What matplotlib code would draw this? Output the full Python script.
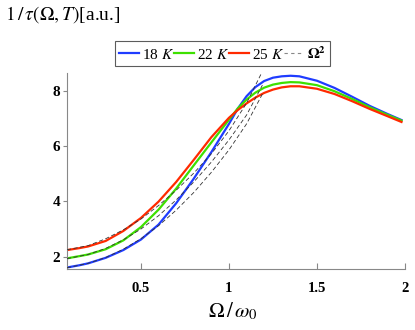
import matplotlib
matplotlib.use("Agg")
import matplotlib.pyplot as plt
from matplotlib.lines import Line2D

plt.rcParams['font.family'] = ['Liberation Serif', 'DejaVu Serif']
plt.rcParams['mathtext.fontset'] = 'stix'

# ---- data ----
x_blue = [0.08, 0.15, 0.2, 0.3, 0.4, 0.5, 0.6, 0.7, 0.8, 0.9, 1.0, 1.05, 1.1, 1.15, 1.2,
          1.25, 1.3, 1.35, 1.4, 1.5, 1.6, 1.7, 1.8, 1.9, 1.98]
y_blue = [1.61, 1.69, 1.76, 1.96, 2.24, 2.62, 3.16, 3.93, 4.82, 5.78, 6.80, 7.35, 7.80, 8.13, 8.35,
          8.47, 8.52, 8.54, 8.52, 8.36, 8.10, 7.78, 7.45, 7.16, 6.94]

x_green = [0.08, 0.15, 0.2, 0.3, 0.4, 0.5, 0.6, 0.7, 0.8, 0.9, 1.0, 1.05, 1.1, 1.15, 1.2,
           1.25, 1.3, 1.35, 1.4, 1.5, 1.6, 1.7, 1.8, 1.9, 1.98]
y_green = [1.94, 2.02, 2.08, 2.27, 2.59, 3.07, 3.70, 4.46, 5.30, 6.13, 6.95, 7.36, 7.68, 7.93, 8.11,
           8.22, 8.28, 8.31, 8.30, 8.20, 7.98, 7.70, 7.40, 7.13, 6.92]

x_red = [0.08, 0.15, 0.2, 0.3, 0.4, 0.5, 0.6, 0.7, 0.8, 0.9, 1.0, 1.05, 1.1, 1.15, 1.2,
         1.25, 1.3, 1.35, 1.4, 1.5, 1.6, 1.7, 1.8, 1.9, 1.98]
y_red = [2.24, 2.31, 2.37, 2.57, 2.93, 3.40, 3.99, 4.70, 5.50, 6.32, 7.02, 7.30, 7.54, 7.75, 7.92,
         8.04, 8.12, 8.16, 8.16, 8.07, 7.88, 7.62, 7.34, 7.08, 6.87]

x_fit = [0.08, 0.2, 0.3, 0.4, 0.5, 0.6, 0.7, 0.8, 0.9, 1.0, 1.1, 1.19]
y_fit_blue = [1.60, 1.76, 1.97, 2.27, 2.65, 3.12, 3.68, 4.32, 5.05, 5.86, 6.80, 7.88]
y_fit_green = [1.93, 2.08, 2.30, 2.61, 3.00, 3.48, 4.05, 4.70, 5.42, 6.22, 7.12, 8.20]
y_fit_red = [2.25, 2.40, 2.65, 2.97, 3.36, 3.85, 4.40, 5.02, 5.72, 6.55, 7.55, 8.70]

labels = ['18 $K$', '22 $K$', '25 $K$', r'$\mathbf{\Omega^2}$']
colors = ['#1f3cff', '#3de000', '#ff2a00', '#888888']
x_ticks = [0.5, 1, 1.5, 2]
x_tick_labels = ['0.5', '1', '1.5', '2']
y_ticks = [2, 4, 6, 8]

fig = plt.figure(figsize=(4.15, 3.30), dpi=100)
ax = fig.add_axes([0.1614, 0.1848, 0.8145, 0.594])

for xf, yf in [(x_fit, y_fit_blue), (x_fit, y_fit_green), (x_fit, y_fit_red)]:
    ax.plot(xf, yf, color='#333333', lw=0.6, ls=(0, (5, 3)), zorder=3)

ax.plot(x_blue, y_blue, color=colors[0], lw=1.6, zorder=2)
ax.plot(x_green, y_green, color=colors[1], lw=1.6, zorder=2)
ax.plot(x_red, y_red, color=colors[2], lw=1.6, zorder=2)

ax.set_xlim(0.08, 2.0)
ax.set_ylim(1.555, 8.64)
ax.set_xticks(x_ticks)
ax.set_xticklabels(x_tick_labels)
ax.set_yticks(y_ticks)
for s in ['top', 'right']:
    ax.spines[s].set_visible(False)
for s in ['left', 'bottom']:
    ax.spines[s].set_color('#888888')
    ax.spines[s].set_linewidth(0.8)
ax.tick_params(axis='x', direction='in', length=4, color='#888888', labelsize=10.5, pad=9)
ax.tick_params(axis='y', direction='out', length=3, color='#888888', labelsize=11, pad=2)
for lab in ax.get_xticklabels() + ax.get_yticklabels():
    lab.set_fontweight('bold')

fig.text(0.012, 0.955, r'$1\,/\,\tau\left(\Omega,T\right)$[a.u.]', fontsize=14,
         ha='left', va='center')
fig.text(0.56, 0.055, r'$\Omega\,/\,\omega_0$', fontsize=15, ha='center', va='center')

handles = [Line2D([], [], color=colors[0], lw=1.6),
           Line2D([], [], color=colors[1], lw=1.6),
           Line2D([], [], color=colors[2], lw=1.6),
           Line2D([], [], color=colors[3], lw=0.8, ls=(0, (3, 3)))]
leg = fig.legend(handles, labels, loc='center', bbox_to_anchor=(0.536, 0.838), ncol=4,
                 fontsize=11, frameon=True, fancybox=False, handlelength=1.3,
                 handletextpad=0.2, columnspacing=0.0, borderpad=0.25, borderaxespad=0)
leg.get_frame().set_edgecolor('#333333')
leg.get_frame().set_linewidth(0.8)

fig.savefig('out.png', dpi=100)
